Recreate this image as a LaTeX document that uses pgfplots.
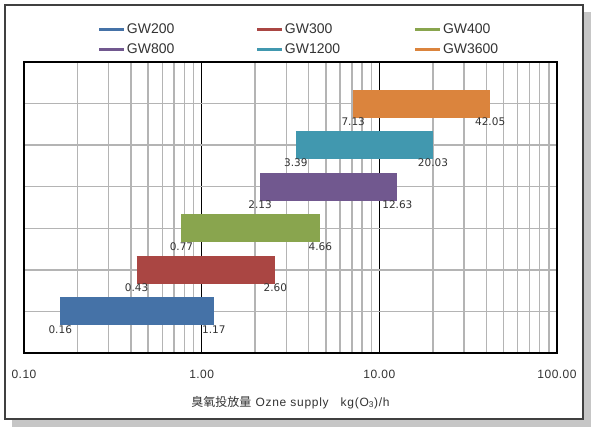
\documentclass[border=0pt]{standalone}
\usepackage{pgfplots}
\pgfplotsset{compat=1.18}
\usepackage{fontspec}
\setmainfont{Liberation Sans}
\newfontfamily\dejavu{DejaVu Sans}
\newfontfamily\cjk{Noto Sans CJK SC}

\definecolor{cA}{HTML}{4572A7}
\definecolor{cB}{HTML}{AA4643}
\definecolor{cC}{HTML}{89A54E}
\definecolor{cD}{HTML}{71588F}
\definecolor{cE}{HTML}{4198AF}
\definecolor{cF}{HTML}{DB843D}
\definecolor{gridgray}{HTML}{B4B4B4}
\definecolor{txt}{HTML}{333333}

\begin{document}
\begin{tikzpicture}[x=1bp,y=1bp]
\useasboundingbox (0,0) rectangle (596,432);
% frame with drop shadow
\fill[gray!45] (12,5) rectangle (591,420);
\draw[fill=white, draw=black!75, line width=1.5bp] (5,13) rectangle (583,427);

\begin{axis}[
  at={(24bp,79bp)}, anchor=south west,
  scale only axis, width=533bp, height=291bp,
  xmode=log, xmin=0.1, xmax=100, ymin=0, ymax=7,
  xtick={0.1,1,10,100},
  xticklabels={0.10,1.00,10.00,100.00},
  ytick={1,2,3,4,5,6}, yticklabels={},
  major tick length=0pt, minor tick length=0pt,
  grid=both,
  major x grid style={black, line width=1.3bp},
  minor x grid style={gridgray, line width=1.4bp},
  major y grid style={gridgray, line width=1.4bp},
  axis line style={black, line width=1.8bp},
  xticklabel style={anchor=base, yshift=-25bp, text=txt,
    font=\fontsize{12bp}{14bp}\selectfont\addfontfeature{LetterSpace=4}},
  xlabel={{\cjk 臭氧投放量} Ozne supply\quad kg(O\textsubscript{3})/h},
  xlabel style={at={(axis description cs:0.5,0)}, anchor=base,
    yshift=-53bp, text=txt,
    font=\fontsize{12bp}{14bp}\selectfont\addfontfeature{LetterSpace=6}},
  point meta=explicit symbolic,
  nodes near coords,
  every node near coord/.append style={anchor=north, yshift=-13bp,
    outer sep=0pt, text=txt, inner sep=1bp,
    font=\dejavu\fontsize{10.5bp}{12bp}\selectfont},
  legend columns=3,
  legend cell align=left,
  legend image code/.code={
    \fill[#1, draw=none] (0bp,-1.75bp) rectangle (25bp,1.75bp);
    \path[draw=none, fill=none] (0bp,0bp) -- (28bp,0bp);},
  legend style={at={(rel axis cs:0.1407,1.146)}, anchor=north west,
    draw=none, fill=none, inner sep=0pt, outer sep=0pt,
    /tikz/column sep=0pt, /tikz/row sep=0pt,
    nodes={text width=130bp, inner sep=0pt, outer sep=0pt,
      minimum height=20bp, text=txt,
      font=\fontsize{14bp}{16bp}\selectfont}},
]
\addplot[cA, line width=28bp] coordinates {(0.16,1) [0.16] (1.17,1) [1.17]};
\addlegendentry{GW200}
\addplot[cB, line width=28bp] coordinates {(0.43,2) [0.43] (2.60,2) [2.60]};
\addlegendentry{GW300}
\addplot[cC, line width=28bp] coordinates {(0.77,3) [0.77] (4.66,3) [4.66]};
\addlegendentry{GW400}
\addplot[cD, line width=28bp] coordinates {(2.13,4) [2.13] (12.63,4) [12.63]};
\addlegendentry{GW800}
\addplot[cE, line width=28bp] coordinates {(3.39,5) [3.39] (20.03,5) [20.03]};
\addlegendentry{GW1200}
\addplot[cF, line width=28bp] coordinates {(7.13,6) [7.13] (42.05,6) [42.05]};
\addlegendentry{GW3600}
\end{axis}
\end{tikzpicture}
\end{document}
